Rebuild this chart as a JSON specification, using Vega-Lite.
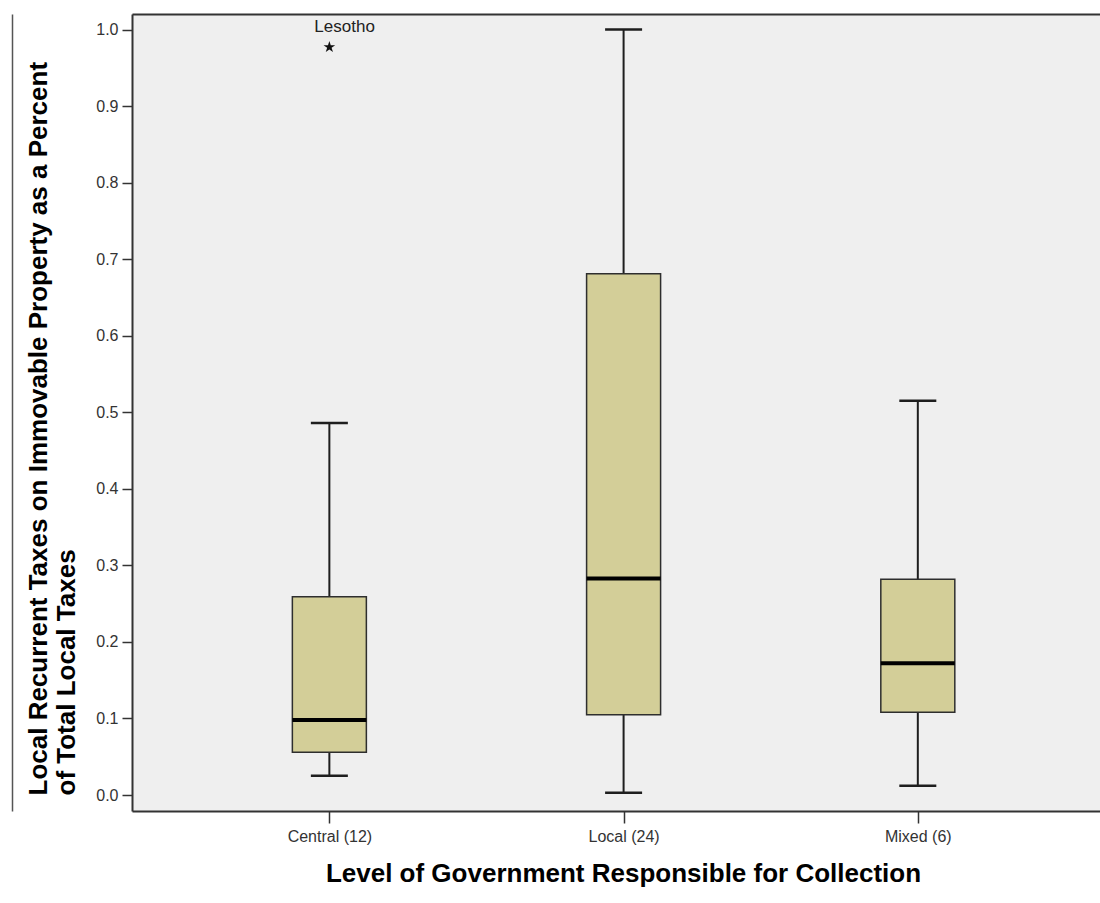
{
  "$schema": "https://vega.github.io/schema/vega-lite/v6.json",
  "autosize": {"type": "none"},
  "padding": {"left": 132, "top": 14, "right": 0, "bottom": 92},
  "width": 968,
  "height": 797,
  "background": "white",
  "config": {
    "view": {"fill": "#efefef", "stroke": null},
    "font": "Liberation Sans"
  },
  "datasets": {
    "boxes": [
      {"group": "Central (12)", "lower": 0.025, "q1": 0.056, "median": 0.098, "q3": 0.259, "upper": 0.486},
      {"group": "Local (24)", "lower": 0.003, "q1": 0.105, "median": 0.283, "q3": 0.681, "upper": 1.0},
      {"group": "Mixed (6)", "lower": 0.012, "q1": 0.108, "median": 0.172, "q3": 0.282, "upper": 0.515}
    ],
    "outliers": [
      {"group": "Central (12)", "value": 0.977, "label": "Lesotho"}
    ]
  },
  "resolve": {"axis": {"x": "independent", "y": "independent"}},
  "layer": [
    {
      "data": {"name": "boxes"},
      "mark": {"type": "rule", "color": "#1e1e1e", "strokeWidth": 2, "opacity": 1},
      "encoding": {
        "x": {
          "field": "group", "type": "nominal", "sort": null,
          "scale": {"type": "point", "padding": 0.645, "align": 0.52},
          "axis": {
            "orient": "bottom",
            "title": "Level of Government Responsible for Collection",
            "labelAngle": 0,
            "labelFont": "Liberation Sans", "labelFontSize": 16, "labelColor": "#333333",
            "labelPadding": 5,
            "tickSize": 12, "tickColor": "#333333", "tickWidth": 1.5,
            "domainColor": "#333333", "domainWidth": 2,
            "titleFont": "Liberation Sans", "titleFontSize": 26, "titleFontWeight": "bold", "titleColor": "#000000",
            "titlePadding": 16, "titleX": 491
          }
        },
        "y": {
          "field": "lower", "type": "quantitative",
          "scale": {"domain": [-0.0209, 1.0203], "nice": false, "zero": false},
          "axis": {
            "orient": "left",
            "values": [0, 0.1, 0.2, 0.3, 0.4, 0.5, 0.6, 0.7, 0.8, 0.9, 1.0],
            "format": ".1f",
            "grid": false,
            "labelFont": "Liberation Sans", "labelFontSize": 16, "labelColor": "#333333",
            "labelPadding": 4,
            "tickSize": 10, "tickColor": "#333333", "tickWidth": 1.5,
            "domainColor": "#333333", "domainWidth": 2,
            "title": ["Local Recurrent Taxes on Immovable Property as a Percent", "of Total Local Taxes"],
            "titleFont": "Liberation Sans", "titleFontSize": 26, "titleFontWeight": "bold", "titleColor": "#000000",
            "titleAngle": -90, "titleAlign": "left", "titleBaseline": "top",
            "titleLineHeight": 28,
            "titleX": -107, "titleY": 781
          }
        },
        "y2": {"field": "q1"}
      }
    },
    {
      "data": {"name": "boxes"},
      "mark": {"type": "rule", "color": "#1e1e1e", "strokeWidth": 2, "opacity": 1},
      "encoding": {
        "x": {
          "field": "group", "type": "nominal", "sort": null,
          "scale": {"type": "point", "padding": 0.645, "align": 0.52},
          "axis": {"orient": "top", "title": null, "labels": false, "ticks": false, "domainColor": "#333333", "domainWidth": 2}
        },
        "y": {
          "field": "q3", "type": "quantitative",
          "scale": {"domain": [-0.0209, 1.0203], "nice": false, "zero": false},
          "axis": {"orient": "left", "title": null, "labels": false, "ticks": false, "grid": false, "offset": 120, "domainColor": "#555555", "domainWidth": 1.5}
        },
        "y2": {"field": "upper"}
      }
    },
    {
      "data": {"name": "boxes"},
      "mark": {"type": "bar", "size": 74, "fill": "#d3ce98", "stroke": "#2e2e2e", "strokeWidth": 1.5, "opacity": 1},
      "encoding": {
        "x": {"field": "group", "type": "nominal", "sort": null, "scale": {"type": "point", "padding": 0.645, "align": 0.52}, "axis": null},
        "y": {"field": "q1", "type": "quantitative", "scale": {"domain": [-0.0209, 1.0203], "nice": false, "zero": false}, "axis": null},
        "y2": {"field": "q3"}
      }
    },
    {
      "data": {"name": "boxes"},
      "mark": {"type": "tick", "size": 74, "thickness": 4, "color": "#000000", "opacity": 1, "orient": "horizontal"},
      "encoding": {
        "x": {"field": "group", "type": "nominal", "sort": null, "scale": {"type": "point", "padding": 0.645, "align": 0.52}, "axis": null},
        "y": {"field": "median", "type": "quantitative", "scale": {"domain": [-0.0209, 1.0203], "nice": false, "zero": false}, "axis": null}
      }
    },
    {
      "data": {"name": "boxes"},
      "mark": {"type": "tick", "size": 37, "thickness": 2.5, "color": "#1e1e1e", "opacity": 1, "orient": "horizontal"},
      "encoding": {
        "x": {"field": "group", "type": "nominal", "sort": null, "scale": {"type": "point", "padding": 0.645, "align": 0.52}, "axis": null},
        "y": {"field": "lower", "type": "quantitative", "scale": {"domain": [-0.0209, 1.0203], "nice": false, "zero": false}, "axis": null}
      }
    },
    {
      "data": {"name": "boxes"},
      "mark": {"type": "tick", "size": 37, "thickness": 2.5, "color": "#1e1e1e", "opacity": 1, "orient": "horizontal"},
      "encoding": {
        "x": {"field": "group", "type": "nominal", "sort": null, "scale": {"type": "point", "padding": 0.645, "align": 0.52}, "axis": null},
        "y": {"field": "upper", "type": "quantitative", "scale": {"domain": [-0.0209, 1.0203], "nice": false, "zero": false}, "axis": null}
      }
    },
    {
      "data": {"name": "outliers"},
      "mark": {"type": "point", "filled": true, "color": "#111111", "opacity": 1, "size": 150,
        "shape": "M0,-1L0.2245,-0.309L0.951,-0.309L0.363,0.118L0.588,0.809L0,0.382L-0.588,0.809L-0.363,0.118L-0.951,-0.309L-0.2245,-0.309Z"},
      "encoding": {
        "x": {"field": "group", "type": "nominal", "sort": null, "scale": {"type": "point", "padding": 0.645, "align": 0.52}, "axis": null},
        "y": {"field": "value", "type": "quantitative", "scale": {"domain": [-0.0209, 1.0203], "nice": false, "zero": false}, "axis": null}
      }
    },
    {
      "data": {"name": "outliers"},
      "mark": {"type": "text", "align": "left", "baseline": "middle", "dx": -15, "dy": -20, "font": "Liberation Sans", "fontSize": 17, "color": "#222222"},
      "encoding": {
        "x": {"field": "group", "type": "nominal", "sort": null, "scale": {"type": "point", "padding": 0.645, "align": 0.52}, "axis": null},
        "y": {"field": "value", "type": "quantitative", "scale": {"domain": [-0.0209, 1.0203], "nice": false, "zero": false}, "axis": null},
        "text": {"field": "label"}
      }
    }
  ]
}
